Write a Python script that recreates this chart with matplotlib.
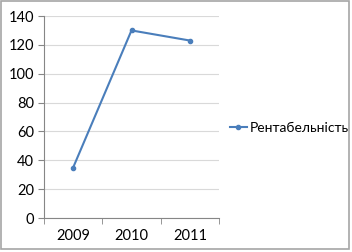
import matplotlib
matplotlib.use('Agg')
import matplotlib.pyplot as plt
from matplotlib.patches import Rectangle

# data
years = ['2009', '2010', '2011']
rentabelnist = [35, 130, 123]
series_name = 'Рентабельність'

plt.rcParams['font.family'] = ['Lato', 'DejaVu Sans']

fig = plt.figure(figsize=(3.52, 2.52), dpi=100)
ax = fig.add_axes([44/352, 1-218/252, 175/352, 202/252])

xs = [i + 0.5 for i in range(len(years))]
ax.plot(xs, rentabelnist, color='#4a7ebb', lw=1.5, marker='o', ms=3, label=series_name)

ax.set_xlim(0, len(years))
ax.set_ylim(0, 140)
ax.set_yticks(range(0, 141, 20))
ax.set_xticks(xs)
ax.set_xticklabels(years)
ax.set_xticks(range(0, len(years)+1), minor=True)
ax.tick_params(axis='x', which='major', length=0, labelsize=10.5, pad=8)
ax.tick_params(axis='x', which='minor', length=4, color='#868686', direction='out')
ax.tick_params(axis='y', length=4, color='#868686', labelsize=10.5, pad=3)
ax.grid(axis='y', color='#d9d9d9', lw=0.8)
ax.set_axisbelow(True)
for s in ['top', 'right']:
    ax.spines[s].set_visible(False)
ax.spines['left'].set_color('#868686')
ax.spines['bottom'].set_color('#868686')

ax.legend(loc='center left', bbox_to_anchor=(230/352, 1-128/252), bbox_transform=fig.transFigure,
          frameon=False, fontsize=10, handlelength=1.2, handletextpad=0.2, borderaxespad=0,
          borderpad=0)

# chart border
fig.patches.append(Rectangle((1/352, 3/252), 348/352, 248/252, transform=fig.transFigure,
                             fill=False, edgecolor='#a6a6a6', lw=1.2))

plt.savefig('out.png', dpi=100)
